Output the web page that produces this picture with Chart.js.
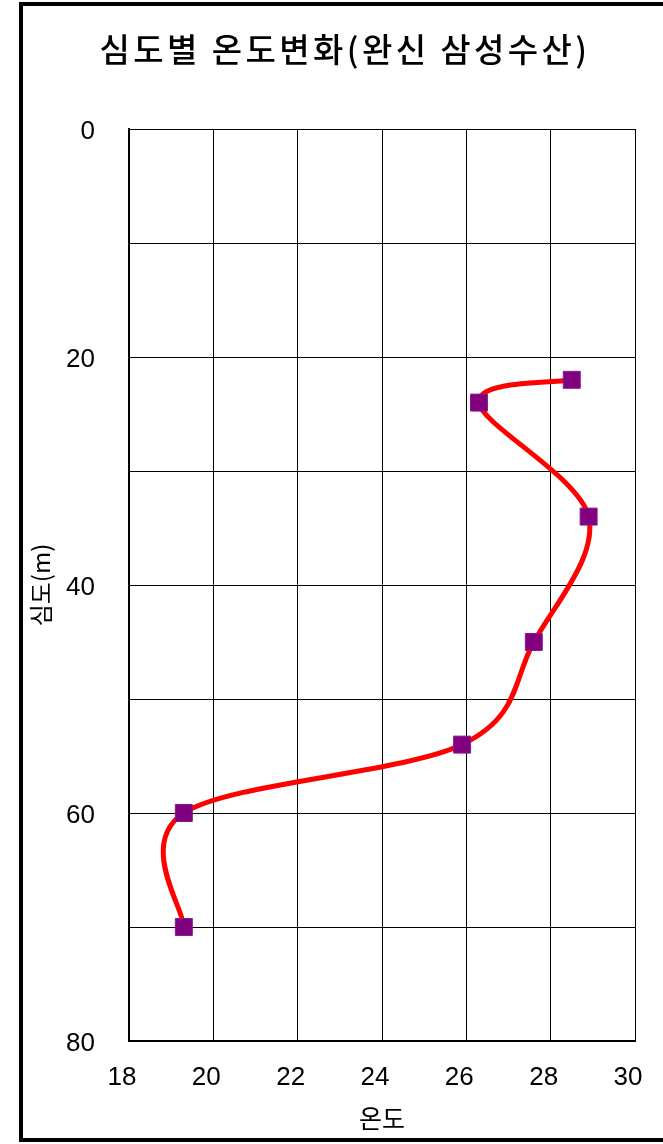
<!DOCTYPE html>
<html><head><meta charset="utf-8">
<script src="https://cdn.jsdelivr.net/npm/chart.js@4/dist/chart.umd.min.js"></script>
<style>html,body{margin:0;padding:0;background:#fff;overflow:hidden}</style>
</head><body>
<canvas id="c" width="663" height="1144"></canvas>
<script>
const chartTitle = '심도별 온도변화(완신 삼성수산)';
const xAxisTitle = '온도';
const yAxisTitle = '심도(m)';
const temperatures = [28.5, 26.3, 28.9, 27.6, 25.9, 19.3, 19.3];
const depths = [22, 24, 34, 45, 54, 60, 70];
const xTickLabels = [18, 20, 22, 24, 26, 28, 30];
const yTickLabels = [0, 20, 40, 60, 80];

const KFONT = '"Noto Sans CJK KR", "Noto Sans", sans-serif';
const NFONT = '"Liberation Sans", Arial, sans-serif';

const framePlugin = {
  id: 'frame',
  beforeDraw(chart) {
    const ctx = chart.ctx;
    ctx.save();
    ctx.fillStyle = '#fff';
    ctx.fillRect(0, 0, chart.width, chart.height);
    ctx.strokeStyle = '#000';
    ctx.lineWidth = 4;
    ctx.beginPath();
    ctx.moveTo(chart.width + 5, 4);
    ctx.lineTo(21, 4);
    ctx.lineTo(21, 1140);
    ctx.lineTo(chart.width + 5, 1140);
    ctx.stroke();
    ctx.restore();
  },
  afterDraw(chart) {
    const ctx = chart.ctx;
    ctx.save();
    ctx.fillStyle = '#000';
    ctx.font = '500 33px ' + KFONT;
    if ('letterSpacing' in ctx) ctx.letterSpacing = '3.4px';
    ctx.textAlign = 'center';
    ctx.textBaseline = 'middle';
    ctx.fillText(chartTitle, 345, 49);
    ctx.restore();
  }
};

// Excel-style smoothing: control points at one sixth of the neighbour chord
const smoothPlugin = {
  id: 'excelSmooth',
  beforeDatasetDraw(chart, args) {
    const meta = args.meta;
    const line = meta.dataset;
    if (!line || !line.updateControlPoints) return;
    line.updateControlPoints(chart.chartArea, meta.iScale.axis);
    const pts = meta.data;
    const n = pts.length;
    for (let i = 0; i < n; i++) {
      const p = pts[i];
      const prev = pts[i - 1] || p;
      const next = pts[i + 1] || p;
      const dx = (next.x - prev.x) / 6;
      const dy = (next.y - prev.y) / 6;
      p.cp1x = p.x - dx; p.cp1y = p.y - dy;
      p.cp2x = p.x + dx; p.cp2y = p.y + dy;
    }
  }
};

new Chart(document.getElementById('c'), {
  type: 'scatter',
  data: {
    datasets: [{
      data: temperatures.map((t, i) => ({x: t, y: depths[i]})),
      showLine: true,
      borderColor: '#ff0000',
      borderWidth: 5,
      tension: 0.4,
      pointStyle: 'rect',
      pointRadius: 12,
      pointHoverRadius: 12,
      pointBackgroundColor: '#800080',
      pointBorderColor: '#8a1a8a',
      pointBorderWidth: 1
    }]
  },
  options: {
    responsive: false,
    devicePixelRatio: 1,
    animation: false,
    layout: {padding: {left: 24, right: 28, top: 129, bottom: 0}},
    plugins: {legend: {display: false}, tooltip: {enabled: false}, title: {display: false}},
    scales: {
      x: {
        type: 'linear', min: xTickLabels[0], max: xTickLabels[xTickLabels.length - 1],
        ticks: {stepSize: 2, autoSkip: false, maxRotation: 0, color: '#000', font: {family: NFONT, size: 26}, padding: 21, labelOffset: -7,
          callback: v => xTickLabels.includes(v) ? String(v) : ''},
        grid: {color: '#000', lineWidth: 1, drawTicks: false},
        border: {display: true, color: '#000', width: 2},
        title: {display: true, text: xAxisTitle, color: '#000', font: {family: KFONT, size: 25}, padding: {top: 0, bottom: 11}},
        afterFit: s => { s.height = 103; s.paddingLeft = 0; s.paddingRight = 0; }
      },
      y: {
        type: 'linear', reverse: true, min: yTickLabels[0], max: yTickLabels[yTickLabels.length - 1],
        ticks: {stepSize: 10, autoSkip: false, color: '#000', font: {family: NFONT, size: 26}, padding: 34, labelOffset: 3,
          callback: v => yTickLabels.includes(v) ? String(v) : ''},
        grid: {color: '#000', lineWidth: 1, drawTicks: false},
        border: {display: true, color: '#000', width: 2},
        title: {display: true, text: yAxisTitle, color: '#000', font: {family: KFONT, size: 24}, padding: {top: 2, bottom: 0}},
        afterFit: s => { s.width = 105; s.paddingTop = 0; s.paddingBottom = 0; }
      }
    }
  },
  plugins: [framePlugin, smoothPlugin]
});
</script>
</body></html>
